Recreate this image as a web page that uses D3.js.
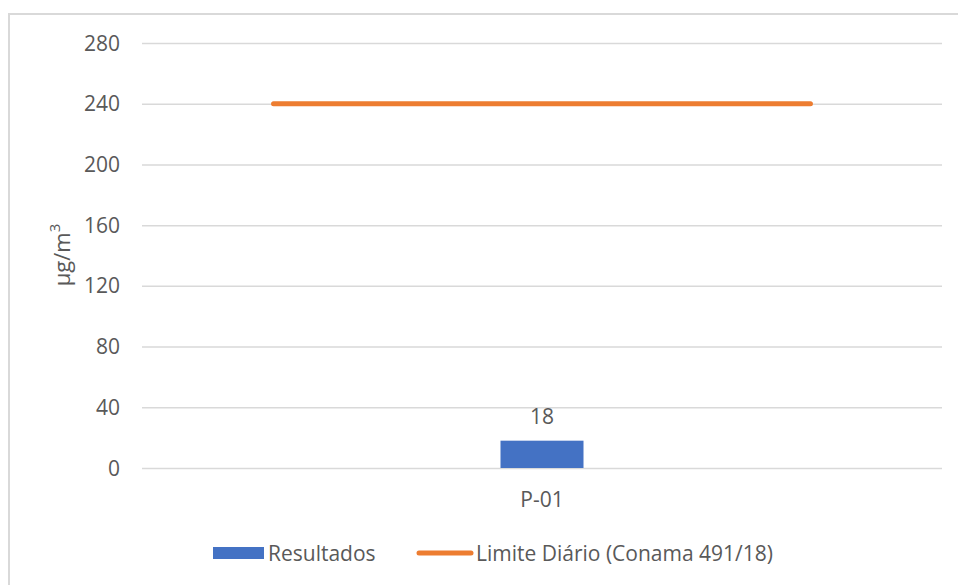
<!DOCTYPE html>
<html>
<head>
<meta charset="UTF-8">
<script src="https://d3js.org/d3.v7.min.js"></script>
<style>
  body { margin: 0; background: #fff; }
  svg text { font-family: "Open Sans", "Noto Sans", sans-serif; fill: #595959; }
  .grid line { stroke: #d9d9d9; stroke-width: 1.5; }
  .grid path { display: none; }
</style>
</head>
<body>
<svg width="958" height="585"></svg>
<script>
// data
var categories = ["P-01"];
var resultados = [18];
var limiteDiario = [240, 240];
var yTicks = [0, 40, 80, 120, 160, 200, 240, 280];

var svg = d3.select("svg"),
    margin = {top: 43, right: 16, bottom: 117, left: 142},
    width = 942 - margin.left,
    height = 468 - margin.top;

// chart frame
svg.append("rect")
    .attr("x", 9).attr("y", 14)
    .attr("width", 960).attr("height", 600)
    .attr("fill", "none")
    .attr("stroke", "#d9d9d9")
    .attr("stroke-width", 2);

var g = svg.append("g")
    .attr("transform", "translate(" + margin.left + "," + margin.top + ")");

var x = d3.scaleBand().domain(categories).range([0, width]).paddingInner(0.812).paddingOuter(0.812);
var xLine = d3.scalePoint().domain(d3.range(limiteDiario.length)).range([0, width]).padding(0.245);
var y = d3.scaleLinear().domain([0, 280]).range([height, 0]);

g.append("g")
    .attr("class", "grid")
    .call(d3.axisLeft(y).tickValues(yTicks).tickSize(-width).tickFormat(""));

// tick labels
g.selectAll(".ylab")
  .data(yTicks)
  .enter().append("text")
    .attr("class", "ylab")
    .attr("x", -22)
    .attr("y", function(d) { return y(d); })
    .attr("dy", "0.36em")
    .attr("text-anchor", "end")
    .style("font-size", "21px")
    .text(function(d) { return d; });

// bars
g.selectAll(".bar")
  .data(resultados)
  .enter().append("rect")
    .attr("class", "bar")
    .attr("x", function(d, i) { return x(categories[i]); })
    .attr("y", function(d) { return y(d); })
    .attr("width", x.bandwidth())
    .attr("height", function(d) { return height - y(d); })
    .attr("fill", "#4472c4");

g.selectAll(".barlab")
  .data(resultados)
  .enter().append("text")
    .attr("class", "barlab")
    .attr("x", function(d, i) { return x(categories[i]) + x.bandwidth() / 2; })
    .attr("y", function(d) { return y(d) - 17; })
    .attr("text-anchor", "middle")
    .style("font-size", "21px")
    .text(function(d) { return d; });

// limit line
var line = d3.line()
    .x(function(d, i) { return xLine(i); })
    .y(function(d) { return y(d); });

g.append("path")
    .datum(limiteDiario)
    .attr("d", line)
    .attr("fill", "none")
    .attr("stroke", "#ed7d31")
    .attr("stroke-width", 5)
    .attr("stroke-linecap", "round");

// category labels
g.selectAll(".xlab")
  .data(categories)
  .enter().append("text")
    .attr("class", "xlab")
    .attr("x", function(d) { return x(d) + x.bandwidth() / 2; })
    .attr("y", height + 39)
    .attr("text-anchor", "middle")
    .style("font-size", "21px")
    .text(function(d) { return d; });

// y axis title
svg.append("text")
    .attr("transform", "translate(70,255) rotate(-90)")
    .attr("text-anchor", "middle")
    .style("font-size", "22px")
    .html("µg/m<tspan baseline-shift=\"super\" font-size=\"15px\">3</tspan>");

// legend
var leg = svg.append("g");
leg.append("rect")
    .attr("x", 213).attr("y", 547)
    .attr("width", 51).attr("height", 12)
    .attr("fill", "#4472c4");
leg.append("text")
    .attr("x", 268).attr("y", 561)
    .style("font-size", "21px")
    .text("Resultados");
leg.append("line")
    .attr("x1", 419).attr("x2", 471)
    .attr("y1", 553).attr("y2", 553)
    .attr("stroke", "#ed7d31")
    .attr("stroke-width", 5)
    .attr("stroke-linecap", "round");
leg.append("text")
    .attr("x", 476).attr("y", 561)
    .style("font-size", "21px")
    .text("Limite Diário (Conama 491/18)");
</script>
</body>
</html>
